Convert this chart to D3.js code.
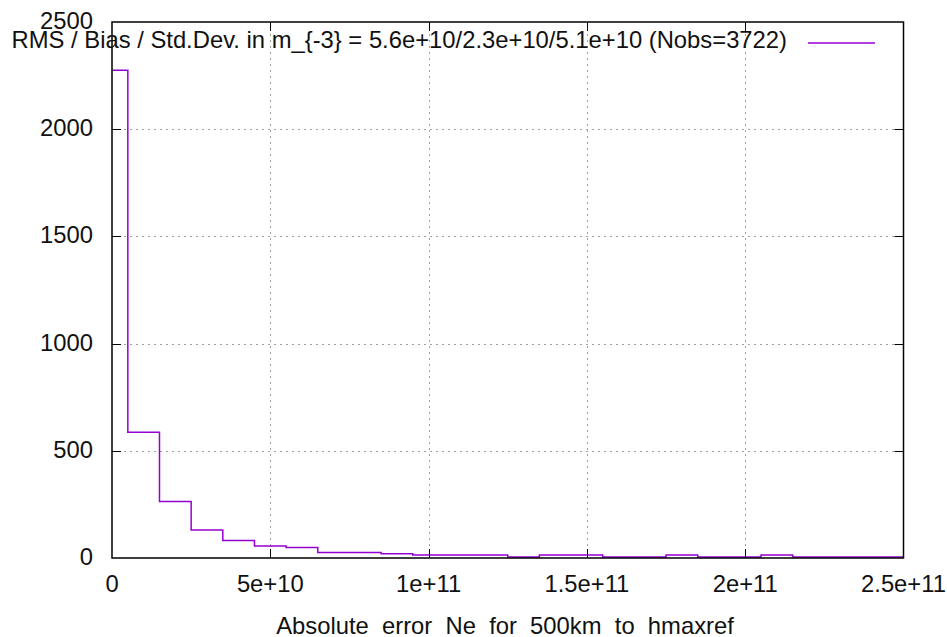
<!DOCTYPE html>
<html>
<head>
<meta charset="utf-8">
<script src="https://cdn.jsdelivr.net/npm/d3@7"></script>
<style>
  body { margin: 0; background: #fff; }
  svg { font-family: "Liberation Sans", Arial, sans-serif; }
</style>
</head>
<body>
<svg width="947" height="637"></svg>
<script>
// bin centres (absolute error, m^-3) and counts per bin
var binCenters = [0, 1e10, 2e10, 3e10, 4e10, 5e10, 6e10, 7e10, 8e10, 9e10,
                  1e11, 1.1e11, 1.2e11, 1.3e11, 1.4e11, 1.5e11, 1.6e11, 1.7e11, 1.8e11, 1.9e11,
                  2e11, 2.1e11, 2.2e11, 2.3e11, 2.4e11, 2.5e11];
var counts = [2275, 586, 263, 131, 82, 56, 49, 26, 26, 20,
              14, 14, 14, 5, 14, 14, 5, 5, 14, 5,
              5, 14, 5, 5, 5, 5];
var xTicks = [0, 5e10, 1e11, 1.5e11, 2e11, 2.5e11];
var xTickLabels = ['0', '5e+10', '1e+11', '1.5e+11', '2e+11', '2.5e+11'];
var yTicks = [0, 500, 1000, 1500, 2000, 2500];
var legendText = 'RMS / Bias / Std.Dev. in m_{-3} = 5.6e+10/2.3e+10/5.1e+10 (Nobs=3722)';
var xLabel = 'Absolute  error  Ne  for  500km  to  hmaxref';

function main() {
    var svg = d3.select('svg');
    var left = 112, right = 903.5, top = 22, bottom = 558;
    var fs = '23.8px';

    var xScale = d3.scaleLinear().domain([0, 2.5e11]).range([left, right]);
    var yScale = d3.scaleLinear().domain([0, 2500]).range([bottom, top]);

    var grid = svg.append('g')
        .attr('stroke', '#a0a0a0')
        .attr('stroke-width', 1)
        .attr('stroke-dasharray', '2,4');

    // grid lines
    grid.selectAll('.gx')
        .data(xTicks.slice(1, -1))
        .enter().append('line')
        .attr('x1', function(d) {return Math.round(xScale(d)) + 0.5;})
        .attr('x2', function(d) {return Math.round(xScale(d)) + 0.5;})
        .attr('y1', top).attr('y2', bottom);
    grid.selectAll('.gy')
        .data(yTicks.slice(1, -1))
        .enter().append('line')
        .attr('y1', function(d) {return Math.round(yScale(d)) + 0.5;})
        .attr('y2', function(d) {return Math.round(yScale(d)) + 0.5;})
        .attr('x1', left).attr('x2', right);

    // histogram steps (step at midpoint between bin centres)
    var line = d3.line()
        .x(function(d, i) {return xScale(binCenters[i]);})
        .y(function(d) {return yScale(d);})
        .curve(d3.curveStep);

    svg.append('path')
        .datum(counts)
        .attr('fill', 'none')
        .attr('stroke', '#9400d3')
        .attr('stroke-width', 1.5)
        .attr('d', line);

    // ticks (inward, mirrored)
    var ticks = svg.append('g').attr('stroke', '#000').attr('stroke-width', 1);
    xTicks.slice(1, -1).forEach(function(d) {
        var x = Math.round(xScale(d)) + 0.5;
        ticks.append('line').attr('x1', x).attr('x2', x).attr('y1', bottom).attr('y2', bottom - 9);
        ticks.append('line').attr('x1', x).attr('x2', x).attr('y1', top).attr('y2', top + 9);
    });
    yTicks.slice(1, -1).forEach(function(d) {
        var y = Math.round(yScale(d)) + 0.5;
        ticks.append('line').attr('y1', y).attr('y2', y).attr('x1', left).attr('x2', left + 9);
        ticks.append('line').attr('y1', y).attr('y2', y).attr('x1', right).attr('x2', right - 9);
    });

    // frame
    svg.append('rect')
        .attr('x', left).attr('y', top)
        .attr('width', right - left).attr('height', bottom - top)
        .attr('fill', 'none')
        .attr('stroke', '#000')
        .attr('stroke-width', 1.5);

    // tick labels
    svg.selectAll('.xl')
        .data(xTicks)
        .enter().append('text')
        .attr('x', function(d) {return xScale(d);})
        .attr('y', 592)
        .attr('text-anchor', 'middle')
        .style('font-size', fs)
        .attr('fill', '#111')
        .text(function(d, i) {return xTickLabels[i];});

    svg.selectAll('.yl')
        .data(yTicks)
        .enter().append('text')
        .attr('x', 93)
        .attr('y', function(d) {return yScale(d) + 7;})
        .attr('text-anchor', 'end')
        .style('font-size', fs)
        .attr('fill', '#111')
        .text(function(d) {return d;});

    // legend
    svg.append('text')
        .attr('x', 787)
        .attr('y', 48)
        .attr('text-anchor', 'end')
        .style('font-size', fs)
        .attr('fill', '#111')
        .text(legendText);
    svg.append('line')
        .attr('x1', 808).attr('x2', 875)
        .attr('y1', 43).attr('y2', 43)
        .attr('stroke', '#9400d3')
        .attr('stroke-width', 1.5);

    // x axis label
    svg.append('text')
        .attr('x', 505)
        .attr('y', 634)
        .attr('text-anchor', 'middle')
        .style('font-size', fs)
        .style('white-space', 'pre')
        .attr('fill', '#111')
        .text(xLabel);
}
main();
</script>
</body>
</html>
